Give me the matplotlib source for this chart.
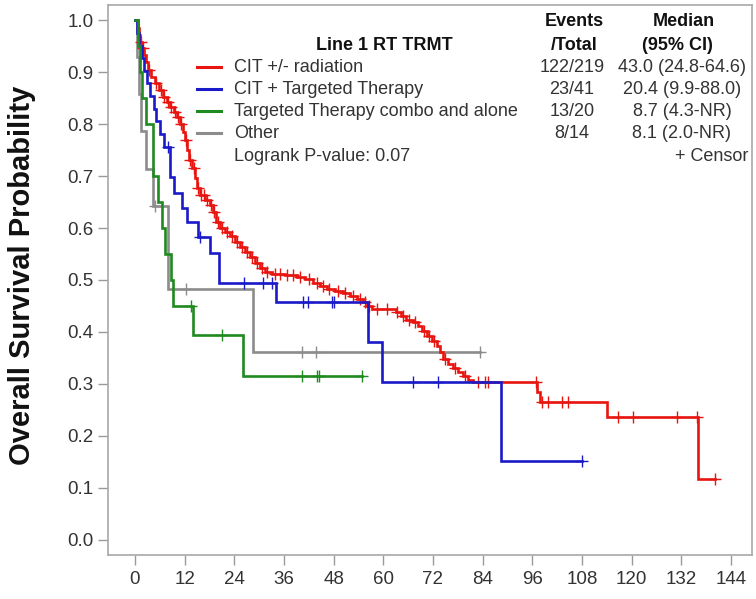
import matplotlib
matplotlib.use("Agg")
import matplotlib.pyplot as plt
import numpy as np
from matplotlib.lines import Line2D

plt.rcParams["font.family"] = ["Liberation Sans", "DejaVu Sans"]

# ---- Kaplan-Meier step data (time in months, survival probability) ----
red_t = [0, 0.7, 1.0, 1.2, 1.7, 2.2, 2.7, 3.1, 3.9, 4.8, 5.8, 6.8, 7.7, 8.5, 9.4,
         10.1, 10.9, 11.6, 12.1, 12.6, 13.0, 13.8, 14.5, 15.0, 15.7, 16.9, 18.1,
         18.8, 19.6, 20.5, 21.7, 22.9, 24.2, 25.4, 26.6, 27.8, 29.0, 30.2, 31.4,
         33.1, 36.2, 39.1, 41.1, 43.0, 44.7, 46.4, 48.3, 50.2, 51.9, 53.6, 55.1,
         56.0, 57.2, 63.0, 64.3, 65.5, 67.1, 68.4, 69.3, 70.5, 71.7, 72.9, 73.7,
         74.4, 75.6, 76.8, 78.0, 79.2, 80.4, 81.6, 97.1, 97.8, 114.0, 136.0]
red_s = [1.0, 0.985, 0.971, 0.958, 0.946, 0.933, 0.919, 0.904, 0.890, 0.879,
         0.865, 0.852, 0.842, 0.833, 0.823, 0.813, 0.800, 0.785, 0.769, 0.750,
         0.731, 0.715, 0.696, 0.677, 0.663, 0.654, 0.644, 0.631, 0.612, 0.600,
         0.592, 0.585, 0.573, 0.563, 0.554, 0.544, 0.533, 0.523, 0.515, 0.512,
         0.510, 0.506, 0.502, 0.494, 0.488, 0.483, 0.479, 0.475, 0.469, 0.463,
         0.458, 0.450, 0.444, 0.438, 0.431, 0.423, 0.419, 0.412, 0.402, 0.392,
         0.383, 0.373, 0.362, 0.348, 0.338, 0.331, 0.323, 0.315, 0.308, 0.304,
         0.285, 0.265, 0.237, 0.117]
red_cens = [1.4, 2.0, 3.4, 5.0, 6.2, 7.0, 7.9, 8.8, 9.8, 10.5, 11.2, 12.3, 13.4,
            14.2, 15.3, 16.0, 16.6, 17.3, 18.5, 19.2, 20.0, 21.0, 22.2, 23.5,
            24.6, 25.8, 27.0, 28.2, 29.5, 30.6, 32.0, 33.8, 35.0, 36.8, 38.2,
            39.8, 42.0, 44.0, 45.5, 47.0, 49.0, 50.8, 52.6, 54.3, 55.6, 56.6,
            58.5, 60.9, 63.3, 64.8, 66.2, 67.6, 69.8, 71.0, 72.3, 75.0, 77.3,
            79.8, 83.0, 84.5, 85.3, 97.0, 98.3, 99.8, 103.1, 104.6, 116.7,
            120.3, 131.0, 135.8, 140.1]

blue_t = [0, 0.5, 1.0, 1.8, 2.3, 3.0, 3.6, 4.5, 5.2, 6.0, 7.0, 8.5, 9.4, 11.3,
          12.5, 15.2, 18.1, 20.4, 34.0, 56.3, 59.6, 88.4]
blue_s = [1.0, 0.976, 0.951, 0.927, 0.902, 0.878, 0.854, 0.829, 0.805, 0.780,
          0.756, 0.698, 0.667, 0.638, 0.612, 0.583, 0.552, 0.494, 0.458, 0.381,
          0.304, 0.152]
blue_cens = [8.0, 15.8, 26.3, 31.0, 33.2, 40.6, 41.9, 47.6, 48.2, 67.2, 73.2,
             108.0]

green_t = [0, 0.7, 1.2, 1.6, 2.8, 4.3, 5.6, 6.5, 7.2, 8.7, 9.3, 14.0, 26.1]
green_s = [1.0, 0.95, 0.90, 0.85, 0.80, 0.70, 0.65, 0.60, 0.55, 0.50, 0.45,
           0.394, 0.315]
green_cens = [13.6, 21.0, 40.3, 44.0, 44.6, 54.8]

gray_t = [0, 0.5, 1.0, 1.5, 2.7, 4.3, 8.1, 28.5]
gray_s = [1.0, 0.929, 0.857, 0.786, 0.714, 0.643, 0.482, 0.361]
gray_cens = [4.8, 12.3, 40.3, 43.7, 83.3]

group_names = ["CIT +/- radiation", "CIT + Targeted Therapy",
               "Targeted Therapy combo and alone", "Other"]
events_total = ["122/219", "23/41", "13/20", "8/14"]
median_ci = ["43.0 (24.8-64.6)", "20.4 (9.9-88.0)", "8.7 (4.3-NR)", "8.1 (2.0-NR)"]
colors = ["#e8140f", "#1a1ac8", "#1f8a1f", "#8c8c8c"]

x_ticks = list(range(0, 145, 12))
y_ticks = [round(0.1 * i, 1) for i in range(11)]

W, H = 756, 599
fig = plt.figure(figsize=(W / 100, H / 100), dpi=100)


def fpos(x, y):
    return x / W, 1 - y / H


ax = fig.add_axes([108 / W, 1 - 555 / H, (752 - 108) / W, (555 - 5) / H])
ax.set_xlim(-6.5, 149.1)
ax.set_ylim(-0.029, 1.029)

curves = [
    (red_t, red_s, red_cens),
    (blue_t, blue_s, blue_cens),
    (green_t, green_s, green_cens),
    (gray_t, gray_s, gray_cens),
]
zorders = [3, 4, 5, 2]
for (t, s, cens), col, z in zip(curves, colors, zorders):
    t = np.asarray(t, float)
    s = np.asarray(s, float)
    assert len(t) == len(s)
    cens = np.asarray(cens, float)
    t_end = max(t[-1], cens.max())
    ax.step(np.append(t, t_end), np.append(s, s[-1]), where="post",
            color=col, lw=1.9, zorder=z, solid_joinstyle="miter")
    idx = np.searchsorted(t, cens, side="right") - 1
    ax.plot(cens, s[idx], ls="none", marker="+", ms=9, mew=1.0,
            color=col, zorder=z)

ax.set_xticks(x_ticks)
ax.set_yticks(y_ticks)
ax.set_yticklabels([f"{v:.1f}" for v in y_ticks])
ax.tick_params(axis="both", length=7, width=1, color="#9a9a9a",
               labelsize=13.5, labelcolor="#333333")
ax.tick_params(axis="y", pad=3.5)
ax.tick_params(axis="x", pad=4.5)
for sp in ax.spines.values():
    sp.set_color("#a8a8a8")
    sp.set_linewidth(1.2)

fig.text(*fpos(22, 275), "Overall Survival Probability", rotation=90,
         ha="center", va="center", fontsize=21, fontweight="bold",
         color="#111111")

# legend / summary table
fs = 13
tc = "#333333"
hc = "#111111"
fig.text(*fpos(384, 45), "Line 1 RT TRMT", ha="center", va="center",
         fontsize=fs, fontweight="bold", color=hc)
fig.text(*fpos(574, 22), "Events", ha="center", va="center",
         fontsize=fs, fontweight="bold", color=hc)
fig.text(*fpos(574, 45), "/Total", ha="center", va="center",
         fontsize=fs, fontweight="bold", color=hc)
fig.text(*fpos(684, 22), "Median", ha="center", va="center",
         fontsize=fs, fontweight="bold", color=hc)
fig.text(*fpos(677, 45), "(95% CI)", ha="center", va="center",
         fontsize=fs, fontweight="bold", color=hc)

row_y = [67, 89, 111, 133]
for name, et, med, col, y in zip(group_names, events_total, median_ci, colors, row_y):
    x0, y0 = fpos(197, y)
    x1, _ = fpos(221, y)
    fig.add_artist(Line2D([x0, x1], [y0, y0], color=col, lw=2.2,
                          transform=fig.transFigure))
    fig.text(*fpos(234, y), name, ha="left", va="center", fontsize=fs, color=tc)
    fig.text(*fpos(572, y), et, ha="center", va="center", fontsize=fs, color=tc)
    fig.text(*fpos(682, y), med, ha="center", va="center", fontsize=fs, color=tc)

fig.text(*fpos(234, 156), "Logrank P-value: 0.07", ha="left", va="center",
         fontsize=fs, color=tc)
fig.text(*fpos(748, 156), "+ Censor", ha="right", va="center",
         fontsize=fs, color=tc)

fig.savefig("out.png", dpi=100, facecolor="white")
